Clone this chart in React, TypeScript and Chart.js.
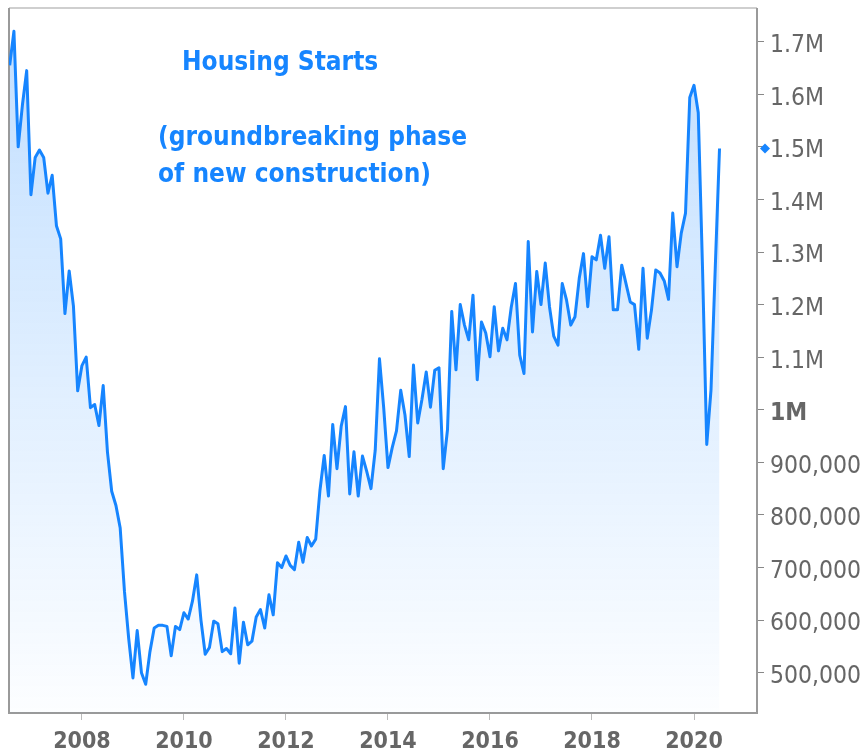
import React, { useEffect, useRef } from "react";
import { Chart, registerables } from "chart.js";

Chart.register(...registerables);

// Monthly housing starts (thousands, SAAR). First series begins Aug 2006.
const firstMonth2006 = 8;
const starts2006 = [1655, 1720, 1500, 1580, 1645];
const starts2007 = [1409, 1480, 1494, 1480, 1412, 1446, 1350, 1325, 1183, 1264, 1197, 1036];
const starts2008 = [1084, 1100, 1004, 1010, 970, 1046, 920, 845, 818, 775, 655, 565];
const starts2009 = [490, 580, 500, 478, 540, 585, 590, 590, 588, 532, 588, 582];
const starts2010 = [614, 602, 636, 686, 600, 535, 548, 598, 593, 540, 546, 536];
const starts2011 = [623, 518, 596, 553, 560, 606, 620, 585, 648, 610, 709, 700];
const starts2012 = [722, 704, 696, 748, 710, 757, 741, 754, 847, 913, 836, 972];
const starts2013 = [888, 969, 1006, 840, 920, 836, 912, 883, 850, 923, 1097, 1003];
const starts2014 = [890, 928, 960, 1037, 990, 911, 1085, 975, 1020, 1072, 1005, 1075];
const starts2015 = [1080, 888, 962, 1187, 1076, 1200, 1161, 1133, 1218, 1057, 1167, 1146];
const starts2016 = [1101, 1196, 1112, 1155, 1133, 1195, 1240, 1104, 1069, 1320, 1148, 1263];
const starts2017 = [1200, 1279, 1196, 1140, 1123, 1240, 1209, 1161, 1177, 1250, 1297, 1196];
const starts2018 = [1291, 1285, 1332, 1269, 1329, 1190, 1190, 1275, 1240, 1205, 1200, 1115];
const starts2019 = [1269, 1136, 1190, 1266, 1260, 1245, 1210, 1374, 1272, 1336, 1374, 1594];
const starts2020 = [1617, 1565, 1270, 934, 1038, 1270, 1497];

const yearTicks = [2008, 2010, 2012, 2014, 2016, 2018, 2020];
const valueTicks = [500000, 600000, 700000, 800000, 900000, 1000000, 1100000, 1200000, 1300000, 1400000, 1500000, 1600000, 1700000];

const titleText = "Housing Starts";
const subtitleLines = ["(groundbreaking phase", "of new construction)"];

const BLUE = "#1685ff";
const LABEL_FONT = '"DejaVu Sans Condensed", "Liberation Sans", Tahoma, sans-serif';

function buildPoints() {
  const years: [number, number[], number][] = [
    [2006, starts2006, firstMonth2006],
    [2007, starts2007, 1],
    [2008, starts2008, 1],
    [2009, starts2009, 1],
    [2010, starts2010, 1],
    [2011, starts2011, 1],
    [2012, starts2012, 1],
    [2013, starts2013, 1],
    [2014, starts2014, 1],
    [2015, starts2015, 1],
    [2016, starts2016, 1],
    [2017, starts2017, 1],
    [2018, starts2018, 1],
    [2019, starts2019, 1],
    [2020, starts2020, 1],
  ];
  const pts: { x: number; y: number }[] = [];
  for (const [yr, vals, m0] of years) {
    vals.forEach((v, i) => {
      pts.push({ x: yr + (m0 - 1 + i) / 12, y: v * 1000 });
    });
  }
  return pts;
}

function formatValue(v: number) {
  if (v >= 1000000) return v / 1000000 + "M";
  return v.toLocaleString("en-US");
}

export default function App() {
  const ref = useRef<HTMLCanvasElement | null>(null);

  useEffect(() => {
    if (!ref.current) return;
    const points = buildPoints();
    const lastValue = points[points.length - 1].y;

    const decor = {
      id: "decor",
      beforeDatasetsDraw(chart: any) {
        const { ctx, chartArea: a } = chart;
        ctx.save();
        ctx.lineWidth = 2;
        ctx.strokeStyle = "#cfcfcf";
        ctx.beginPath();
        ctx.moveTo(a.left, a.top);
        ctx.lineTo(a.right, a.top);
        ctx.stroke();
        ctx.strokeStyle = "#9a9a9a";
        ctx.beginPath();
        ctx.moveTo(a.left, a.top);
        ctx.lineTo(a.left, a.bottom);
        ctx.lineTo(a.right, a.bottom);
        ctx.lineTo(a.right, a.top);
        ctx.stroke();
        ctx.restore();
      },
      afterDraw(chart: any) {
        const { ctx, chartArea: a, scales } = chart;
        ctx.save();
        ctx.fillStyle = BLUE;
        ctx.textAlign = "left";
        ctx.textBaseline = "alphabetic";
        ctx.font = `bold 26px ${LABEL_FONT}`;
        ctx.fillText(titleText, 182, 70);
        ctx.fillText(subtitleLines[0], 158, 145);
        ctx.fillText(subtitleLines[1], 158, 182);
        const y = scales.y.getPixelForValue(lastValue);
        const x = a.right + 8;
        ctx.beginPath();
        ctx.moveTo(x, y - 5);
        ctx.lineTo(x + 5, y);
        ctx.lineTo(x, y + 5);
        ctx.lineTo(x - 5, y);
        ctx.closePath();
        ctx.fill();
        ctx.restore();
      },
    };

    const chart = new Chart(ref.current, {
      type: "line",
      data: {
        datasets: [
          {
            data: points,
            borderColor: BLUE,
            borderWidth: 3,
            borderJoinStyle: "round",
            pointRadius: 0,
            tension: 0,
            fill: "start",
            backgroundColor: (c: any) => {
              const { chart: ch } = c;
              const area = ch.chartArea;
              if (!area) return "rgba(22,133,255,0.15)";
              const g = ch.ctx.createLinearGradient(0, area.top, 0, area.bottom);
              g.addColorStop(0, "rgba(22,133,255,0.27)");
              g.addColorStop(1, "rgba(22,133,255,0.01)");
              return g;
            },
          },
        ],
      },
      options: {
        responsive: false,
        animation: false,
        devicePixelRatio: 1,
        layout: { padding: { left: 9, top: 8, right: 0, bottom: 0 } },
        plugins: { legend: { display: false }, tooltip: { enabled: false } },
        scales: {
          x: {
            type: "linear",
            min: 2006.57,
            max: 2021.235,
            afterBuildTicks: (s: any) => {
              s.ticks = yearTicks.map((v) => ({ value: v }));
            },
            afterFit: (s: any) => {
              s.height = 41;
              s.paddingLeft = 0;
              s.paddingRight = 0;
            },
            ticks: {
              callback: (v: any) => String(v),
              autoSkip: false,
              maxRotation: 0,
              padding: 8,
              color: "#666",
              font: { family: LABEL_FONT, size: 23, weight: "bold" },
            },
            grid: { drawOnChartArea: false, drawTicks: true, tickLength: 7, color: "#bbb" },
            border: { display: false },
          },
          y: {
            type: "linear",
            position: "right",
            min: 423300,
            max: 1764100,
            afterBuildTicks: (s: any) => {
              s.ticks = valueTicks.map((v) => ({ value: v }));
            },
            afterFit: (s: any) => {
              s.width = 109;
              s.paddingTop = 0;
              s.paddingBottom = 0;
            },
            ticks: {
              callback: (v: any) => formatValue(Number(v)),
              autoSkip: false,
              padding: 6,
              labelOffset: 4,
              color: "#666",
              font: (c: any) => ({
                family: LABEL_FONT,
                size: 24.5,
                weight: c.tick && c.tick.value === 1000000 ? "bold" : "normal",
              }),
            },
            grid: { drawOnChartArea: false, drawTicks: true, tickLength: 7, color: "#888" },
            border: { display: false },
          },
        },
      },
      plugins: [decor],
    } as any);

    return () => chart.destroy();
  }, []);

  return (
    <div style={{ position: "absolute", left: 0, top: 0, width: 866, height: 754, background: "#fff" }}>
      <canvas ref={ref} width={866} height={754} style={{ display: "block" }} />
    </div>
  );
}
